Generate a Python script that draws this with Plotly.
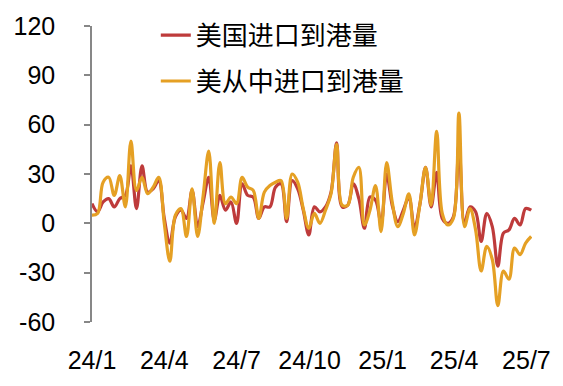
import pandas as pd
import plotly.graph_objects as go

# ---- data ----
start_date = "2024-01-01"
n_weeks = 80
us_imports = [12, 7, 13, 15, 10, 15, 17, 35, 9, 35,
              19, 21, 26, 3, -12, 4, 8, 3, 20, -2,
              13, 28, 2, 17, 8, 13, 0, 24, 17, 16,
              3, 10, 10, 22, 24, 1, 26, 21, 8, -7,
              10, 7, 10, 19, 49, 10, 11, 24, 15, -3,
              16, 14, 0, 30, 11, 1, 8, 16, -3, 12,
              34, 10, 31, 3, 0, 4, 48, 0, 10, 7,
              -11, 6, -2, -26, -6, -4, 3, -1, 9, 8]
us_from_china = [5, 6, 25, 28, 17, 29, 10, 50, 20, 28,
                 18, 22, 28, 0, -23, 5, 9, -8, 21, -8,
                 17, 44, 0, 37, 12, 16, 12, 28, 22, 20,
                 3, 19, 23, 25, 26, 3, 30, 25, 9, -3,
                 6, 0, 8, 18, 48, 11, 11, 28, 34, -1,
                 8, 23, -5, 37, 13, -2, 6, 18, -7, 12,
                 34, 11, 56, 6, -1, 3, 67, -2, 9, -4,
                 -29, -14, -22, -50, -29, -34, -15, -19, -12, -8]
series_names = ["美国进口到港量", "美从中进口到港量"]
x_tick_vals = ["2024-01-01", "2024-04-01", "2024-07-01", "2024-10-01",
               "2025-01-01", "2025-04-01", "2025-07-01"]
x_tick_text = ["24/1", "24/4", "24/7", "24/10", "25/1", "25/4", "25/7"]
y_tick_vals = [-60, -30, 0, 30, 60, 90, 120]
y_tick_text = ["-60", "-30", "0", "30", "60", "90", "120"]

dates = pd.date_range(start_date, periods=n_weeks, freq="7D")

RED = "#BE3B3B"
ORANGE = "#E5A024"
GRAY = "#878787"
y_min, y_max = -60, 120

fig = go.Figure()
fig.add_trace(go.Scatter(x=dates, y=us_imports, name=series_names[0], mode="lines",
                         line=dict(color=RED, width=3.2, shape="spline", smoothing=1),
                         legendgroup="a"))
fig.add_trace(go.Scatter(x=dates, y=us_from_china, name=series_names[1], mode="lines",
                         line=dict(color=ORANGE, width=3.2, shape="spline", smoothing=1),
                         legendgroup="b"))

fig.update_layout(
    width=563, height=386,
    margin=dict(l=92, r=22, t=24, b=62),
    plot_bgcolor="white", paper_bgcolor="white",
    font=dict(family="Liberation Sans, Arial, sans-serif", size=25, color="black"),
    showlegend=True,
    legend=dict(x=0.145, y=1.048, xanchor="left", yanchor="top",
                bgcolor="rgba(0,0,0,0)", borderwidth=0,
                font=dict(family="Noto Sans CJK SC", size=26, color="black"),
                tracegroupgap=9),
    xaxis=dict(range=["2024-01-01", "2025-07-08"], tickvals=x_tick_vals, ticktext=x_tick_text,
               ticks="", showline=False, showgrid=False, zeroline=False,
               ticklabelstandoff=21),
    xaxis2=dict(overlaying="x", matches="x", anchor="free",
                position=(0 - y_min) / (y_max - y_min), side="bottom",
                tickvals=x_tick_vals, showticklabels=False, ticks="outside",
                ticklen=7, tickwidth=1.5, tickcolor=GRAY,
                showline=True, linecolor=GRAY, linewidth=1.5,
                showgrid=False, zeroline=False, layer="below traces"),
    yaxis=dict(range=[y_min, y_max], tickvals=y_tick_vals, ticktext=y_tick_text,
               showline=True, linecolor=GRAY, linewidth=1.5,
               ticks="outside", ticklen=6, tickwidth=1.5, tickcolor=GRAY,
               showgrid=False, zeroline=False, ticklabelstandoff=24),
)

fig.write_html("out.html")
